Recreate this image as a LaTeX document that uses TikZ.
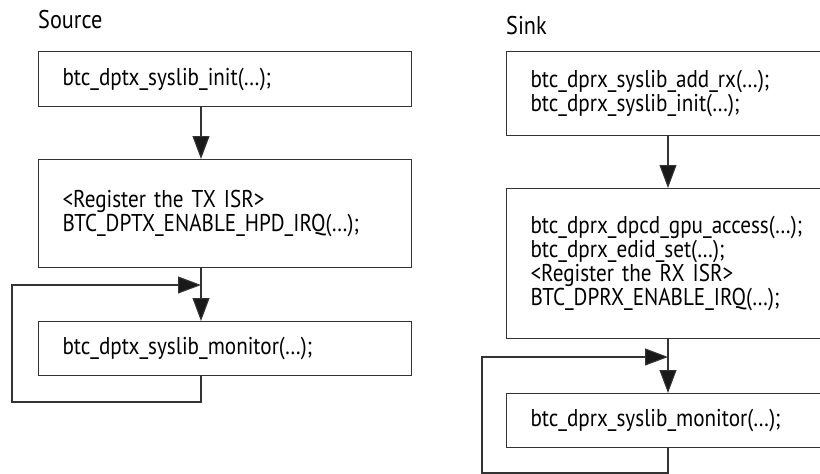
\documentclass[tikz,border=0pt]{standalone}
\usepackage{fontspec}
\setmainfont[FakeStretch=0.87,WordSpace=0.55]{PT Sans}
\usetikzlibrary{arrows.meta,calc}
\tikzset{
  box/.style={draw=black!80, line width=1.1pt, minimum width=373pt, inner xsep=24pt,
    text width=325pt, align=left, font=\fontsize{24.3}{24}\selectfont, anchor=north west},
  conn/.style={draw=black!80, line width=1.1pt},
  arr/.style={conn, -{Triangle[length=23pt,width=17pt,fill=black!90]}},
  heading/.style={font=\fontsize{25.6}{28}\selectfont, anchor=base west, inner sep=0pt}
}
\begin{document}
\begin{tikzpicture}[x=1pt,y=-1pt]
\useasboundingbox (0,0) rectangle (820,474);
\clip (0,0) rectangle (820,474);
% headings
\node[heading] (src) at (38,28) {Source};
\node[heading] (snk) at (506,34) {Sink};
% source boxes
\node[box, minimum height=55pt] (b1) at (38,51) {btc\_dptx\_syslib\_init(…);};
\node[box, minimum height=108pt] (b2) at (38,159) {<Register the TX ISR>\\BTC\_DPTX\_ENABLE\_HPD\_IRQ(…);\\[8pt]};
\node[box, minimum height=54pt] (b3) at (38,321) {btc\_dptx\_syslib\_monitor(…);};
% sink boxes
\node[box, minimum height=84pt] (s1) at (506,51) {btc\_dprx\_syslib\_add\_rx(…);\\btc\_dprx\_syslib\_init(…);};
\node[box, minimum height=150pt] (s2) at (506,188) {btc\_dprx\_dpcd\_gpu\_access(…);\\btc\_dprx\_edid\_set(…);\\<Register the RX ISR>\\BTC\_DPRX\_ENABLE\_IRQ(…);};
\node[box, minimum height=54pt] (s3) at (506,393) {btc\_dprx\_syslib\_monitor(…);};
% connector columns
\coordinate (la) at (201,0);
\coordinate (ra) at (668,0);
\coordinate (ljoin) at (201,285);
\coordinate (lbot) at (12,402);
\coordinate (rjoin) at (668,357);
\coordinate (rbot) at (482,473);
% source connectors
\draw[arr] (b1.south -| la) -- (b2.north -| la);
\draw[arr] (b2.south -| la) -- (b3.north -| la);
\draw[arr] (b3.south -| la) |- (lbot) |- (ljoin);
% sink connectors
\draw[arr] (s1.south -| ra) -- (s2.north -| ra);
\draw[arr] (s2.south -| ra) -- (s3.north -| ra);
\draw[arr] (s3.south -| ra) |- (rbot) |- (rjoin);
\end{tikzpicture}
\end{document}
